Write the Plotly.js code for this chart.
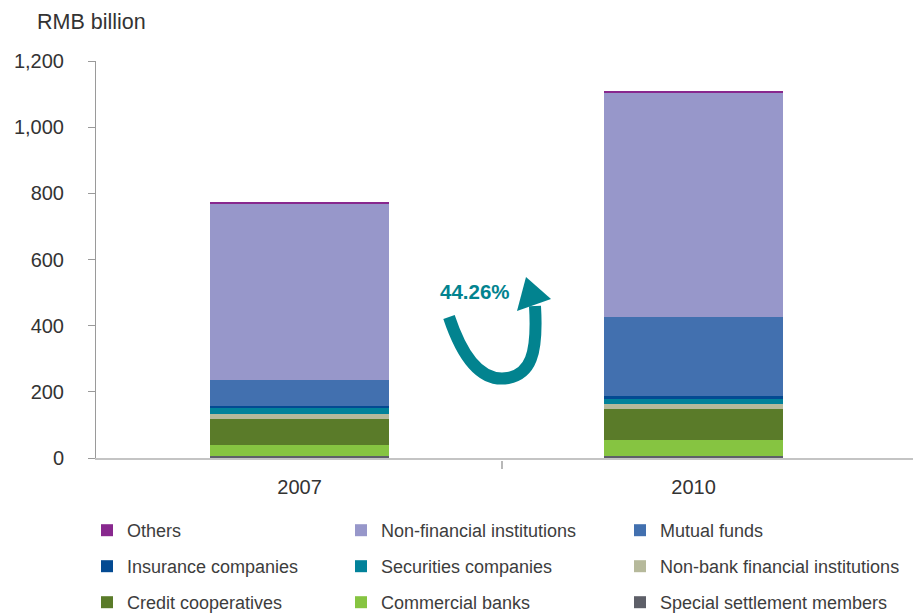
<!DOCTYPE html>
<html>
<head>
<meta charset="utf-8">
<script src="https://cdn.plot.ly/plotly-3.0.1.min.js"></script>
<style>html,body{margin:0;padding:0;background:#fff;}#chart{width:922px;height:615px;}</style>
</head>
<body>
<div id="chart"></div>
<script>
// ---- data (RMB billion) ----
var years = ["2007", "2010"];
var specialSettlement = [5, 7];
var commercialBanks = [34, 47];
var creditCooperatives = [79, 94];
var nonBankFinancial = [15, 15];
var securitiesCompanies = [18, 15];
var insuranceCompanies = [7, 9];
var mutualFunds = [78, 239];
var nonFinancial = [531, 677];
var others = [6, 6];
var yTickVals = [0, 200, 400, 600, 800, 1000, 1200];
var yTickText = ["0", "200", "400", "600", "800", "1,000", "1,200"];
var growthLabel = "44.26%";

// ---- geometry helpers ----
var W = 922, H = 615;
var PL = 96, PR = 913, PT = 61, PB = 458;
function px(x) { return (x - PL) / (PR - PL); }
function py(y) { return (PB - y) / (PB - PT); }

var font = "Liberation Sans, Arial, sans-serif";
// rank = position (top to bottom) within its legend column
var series = [
  {name: "Special settlement members", y: specialSettlement, color: "#5d5f68", legend: "legend3", rank: 3},
  {name: "Commercial banks", y: commercialBanks, color: "#86c441", legend: "legend2", rank: 3},
  {name: "Credit cooperatives", y: creditCooperatives, color: "#5a7b29", legend: "legend", rank: 3},
  {name: "Non-bank financial institutions", y: nonBankFinancial, color: "#b6b99b", legend: "legend3", rank: 2},
  {name: "Securities companies", y: securitiesCompanies, color: "#02829a", legend: "legend2", rank: 2},
  {name: "Insurance companies", y: insuranceCompanies, color: "#034a92", legend: "legend", rank: 2},
  {name: "Mutual funds", y: mutualFunds, color: "#4270af", legend: "legend3", rank: 1},
  {name: "Non-financial institutions", y: nonFinancial, color: "#9797ca", legend: "legend2", rank: 1},
  {name: "Others", y: others, color: "#88288e", legend: "legend", rank: 1}
];

var traces = series.map(function (s) {
  return {
    type: "bar", x: years, y: s.y, name: s.name,
    marker: {color: s.color, line: {width: 0}},
    width: 0.454, legend: s.legend, legendgroup: s.name, legendrank: s.rank * 100,
    hoverinfo: "name+y"
  };
});

function P(x, y) { return px(x).toFixed(5) + "," + py(y).toFixed(5); }
var arrowBody = "M" + P(449, 317) +
  " C" + P(465, 365) + " " + P(485, 382) + " " + P(508, 378) +
  " C" + P(530, 374) + " " + P(538, 355) + " " + P(535, 306);
var arrowHead = "M" + P(526, 277) + " L" + P(551, 299) + " L" + P(517, 311) + " Z";

var legendCommon = {
  orientation: "v", traceorder: "grouped", tracegroupgap: 9.6,
  font: {family: font, size: 18, color: "#3d3d3d"},
  bgcolor: "rgba(0,0,0,0)", xanchor: "left", yanchor: "top", itemclick: false, itemdoubleclick: false
};
function leg(x) { var o = JSON.parse(JSON.stringify(legendCommon)); o.x = px(x); o.y = py(512); return o; }

var layout = {
  width: W, height: H,
  margin: {l: PL, r: W - PR, t: PT, b: H - PB, pad: 0, autoexpand: false},
  paper_bgcolor: "#fff", plot_bgcolor: "#fff",
  barmode: "stack", bargap: 0.5,
  font: {family: font, color: "#333"},
  xaxis: {
    type: "category", range: [-0.5165, 1.557], fixedrange: true,
    showline: true, linecolor: "#c4c4c4", linewidth: 2,
    ticks: "", showgrid: false, zeroline: false,
    tickfont: {family: font, size: 20, color: "#333"},
    ticklabelstandoff: 10
  },
  yaxis: {
    range: [0, 1200], fixedrange: true,
    tickvals: yTickVals, ticktext: yTickText,
    showline: true, linecolor: "#9a9a9a", linewidth: 1,
    ticks: "outside", ticklen: 7, tickcolor: "#9a9a9a", tickwidth: 1,
    showgrid: false, zeroline: false,
    tickfont: {family: font, size: 20, color: "#333"},
    ticklabelstandoff: 20
  },
  showlegend: true,
  legend: leg(87),
  legend2: leg(341),
  legend3: leg(620),
  shapes: [
    {type: "line", xref: "paper", yref: "paper", x0: px(502), x1: px(502), y0: py(461), y1: py(469),
      line: {color: "#b8b8b8", width: 2}},
    {type: "path", xref: "paper", yref: "paper", path: arrowBody, line: {color: "#02838f", width: 12}, fillcolor: "rgba(0,0,0,0)"},
    {type: "path", xref: "paper", yref: "paper", path: arrowHead, line: {color: "#02838f", width: 0}, fillcolor: "#02838f"}
  ],
  annotations: [
    {text: "RMB billion", xref: "paper", yref: "paper", x: px(35), y: py(22), xanchor: "left", yanchor: "middle",
      showarrow: false, font: {family: font, size: 21.5, color: "#333"}},
    {text: "<b>" + growthLabel + "</b>", xref: "paper", yref: "paper", x: px(475), y: py(291), xanchor: "center", yanchor: "middle",
      showarrow: false, font: {family: font, size: 20.5, color: "#02838f"}}
  ]
};

Plotly.newPlot("chart", traces, layout, {displayModeBar: false, staticPlot: true});
</script>
</body>
</html>
